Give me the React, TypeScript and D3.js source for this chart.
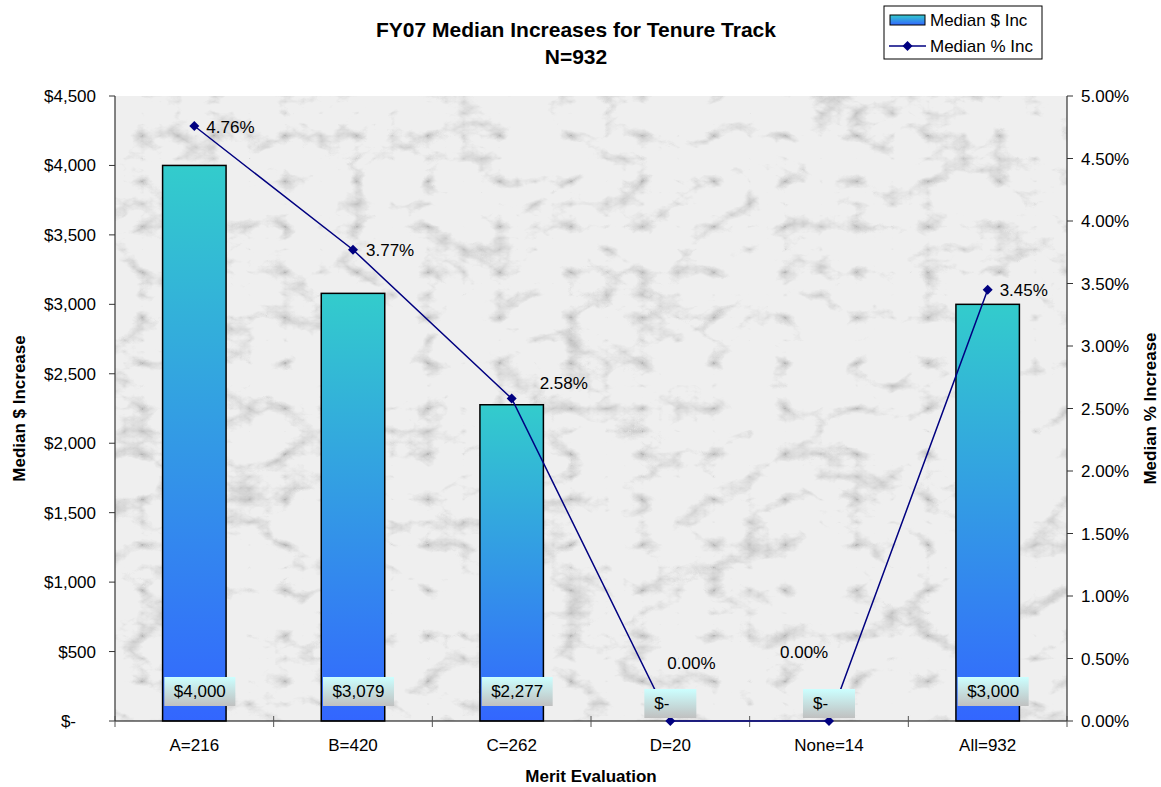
import React from 'react';
import * as d3 from 'd3';

const categories = ['A=216', 'B=420', 'C=262', 'D=20', 'None=14', 'All=932'];
const medianDollar = [4000, 3079, 2277, 0, 0, 3000];
const medianPct = [4.76, 3.77, 2.58, 0, 0, 3.45];
const dollarTicks = [0, 500, 1000, 1500, 2000, 2500, 3000, 3500, 4000, 4500];
const pctTicks = [0, 0.5, 1, 1.5, 2, 2.5, 3, 3.5, 4, 4.5, 5];

// where Excel pushed the % labels, relative to the marker
const pctLabelShift: [number, number][] = [
  [12, 7], [13, 6], [28, -10], [-3, -52], [-49, -63], [12, 6],
];

const W = 1161;
const H = 787;
const m = { top: 96, right: 94, bottom: 66, left: 115 };
const FONT = 'Arial, "Liberation Sans", sans-serif';
const FS = 17;

const fmtDollar = (v: number) => (v === 0 ? '$-' : '$' + d3.format(',')(v));
const fmtPct = (v: number) => v.toFixed(2) + '%';

export default function App() {
  const iw = W - m.left - m.right;
  const ih = H - m.top - m.bottom;
  const x = d3.scaleBand<string>().domain(categories).range([m.left, m.left + iw]).paddingInner(0.6).paddingOuter(0.3);
  const xc = (c: string) => (x(c) ?? 0) + x.bandwidth() / 2;
  const step = iw / categories.length;
  const y = d3.scaleLinear().domain([0, 4500]).range([m.top + ih, m.top]);
  const y2 = d3.scaleLinear().domain([0, 5]).range([m.top + ih, m.top]);
  const base = y(0);

  const line = d3.line<number>().x((_, i) => xc(categories[i])).y(d => y2(d));

  return (
    <svg width={W} height={H} style={{ position: 'absolute', left: 0, top: 0, fontFamily: FONT }}>
      <defs>
        <linearGradient id="barGrad" x1="0" y1="0" x2="0" y2="1">
          <stop offset="0" stopColor="#33CCCC" />
          <stop offset="1" stopColor="#3366FF" />
        </linearGradient>
        <linearGradient id="lblGrad" x1="0" y1="0" x2="0" y2="1">
          <stop offset="0" stopColor="#CCFFFF" />
          <stop offset="1" stopColor="#C0C0C0" />
        </linearGradient>
        <filter id="marble" x="0" y="0" width="100%" height="100%">
          <feTurbulence type="turbulence" baseFrequency="0.014 0.022" numOctaves={5} seed={7} result="t" />
          <feColorMatrix in="t" type="matrix"
            values="0 0 0 0 0  0 0 0 0 0  0 0 0 0 0  -1.1 -0.7 -0.3 0 0.6" result="veins" />
          <feFlood floodColor="#efefef" result="bg" />
          <feFlood floodColor="#7a7a7a" result="dark" />
          <feComposite in="dark" in2="veins" operator="in" result="v2" />
          <feMerge>
            <feMergeNode in="bg" />
            <feMergeNode in="v2" />
          </feMerge>
        </filter>
      </defs>

      <rect x={0} y={0} width={W} height={H} fill="#fff" />

      {/* marble plot area */}
      <rect x={m.left} y={m.top} width={iw} height={ih} fill="#e6e6e6" filter="url(#marble)" />

      {/* title */}
      <text x={576} y={37} textAnchor="middle" fontSize={21} fontWeight="bold">FY07 Median Increases for Tenure Track</text>
      <text x={576} y={64} textAnchor="middle" fontSize={21} fontWeight="bold">N=932</text>

      {/* bars */}
      {medianDollar.map((v, i) => (
        <rect key={'b' + i} x={x(categories[i])} y={y(v)} width={x.bandwidth()} height={base - y(v)}
          fill="url(#barGrad)" stroke="#000" strokeWidth={1.5} />
      ))}

      {/* left axis */}
      <line x1={m.left} x2={m.left} y1={m.top} y2={base} stroke="#333" strokeWidth={1.2} />
      {dollarTicks.map(t => (
        <g key={'l' + t}>
          <line x1={m.left - 6} x2={m.left} y1={y(t)} y2={y(t)} stroke="#333" />
          <text x={t === 0 ? 76 : 96} y={y(t) + 6} textAnchor="end" fontSize={FS}>{fmtDollar(t)}</text>
        </g>
      ))}

      {/* right axis */}
      <line x1={m.left + iw} x2={m.left + iw} y1={m.top} y2={base} stroke="#333" strokeWidth={1.2} />
      {pctTicks.map(t => (
        <g key={'r' + t}>
          <line x1={m.left + iw} x2={m.left + iw + 6} y1={y2(t)} y2={y2(t)} stroke="#333" />
          <text x={m.left + iw + 14} y={y2(t) + 6} fontSize={FS}>{t.toFixed(2) + '%'}</text>
        </g>
      ))}

      {/* x axis */}
      <line x1={m.left} x2={m.left + iw} y1={base} y2={base} stroke="#000" strokeWidth={1.2} />
      {d3.range(categories.length + 1).map(i => (
        <line key={'xt' + i} x1={m.left + i * step} x2={m.left + i * step} y1={base - 5} y2={base + 6} stroke="#555" />
      ))}
      {categories.map(c => (
        <text key={'xl' + c} x={xc(c)} y={751} textAnchor="middle" fontSize={FS}>{c}</text>
      ))}

      {/* % line */}
      <path d={line(medianPct) ?? ''} fill="none" stroke="#000080" strokeWidth={1.5} />
      {medianPct.map((v, i) => {
        const cx = xc(categories[i]);
        const cy = y2(v);
        return <path key={'m' + i} d={`M${cx},${cy - 5}L${cx + 5},${cy}L${cx},${cy + 5}L${cx - 5},${cy}Z`} fill="#000080" />;
      })}
      {medianPct.map((v, i) => (
        <text key={'pl' + i} x={xc(categories[i]) + pctLabelShift[i][0]} y={y2(v) + pctLabelShift[i][1]} fontSize={FS}>{fmtPct(v)}</text>
      ))}

      {/* $ data labels */}
      {medianDollar.map((v, i) => {
        const label = fmtDollar(v);
        const bw = v === 0 ? 52 : 71;
        const bx = v === 0 ? xc(categories[i]) - 26 : xc(categories[i]) - 30;
        const by = v === 0 ? base - 32 : base - 44;
        return (
          <g key={'dl' + i}>
            <rect x={bx} y={by} width={bw} height={29} fill="url(#lblGrad)" />
            <text x={v === 0 ? bx + 10 : bx + bw / 2} y={by + 20} textAnchor={v === 0 ? 'start' : 'middle'} fontSize={FS}>{label}</text>
          </g>
        );
      })}

      {/* axis titles */}
      <text transform={`translate(25,${m.top + ih / 2}) rotate(-90)`} textAnchor="middle" fontSize={FS} fontWeight="bold">Median $ Increase</text>
      <text transform={`translate(1156,${m.top + ih / 2}) rotate(-90)`} textAnchor="middle" fontSize={FS} fontWeight="bold">Median % Increase</text>
      <text x={591} y={782} textAnchor="middle" fontSize={FS} fontWeight="bold">Merit Evaluation</text>

      {/* legend */}
      <g>
        <rect x={884} y={6} width={158} height={53} fill="#fff" stroke="#000" />
        <rect x={890} y={15} width={35} height={10} fill="url(#barGrad)" stroke="#000" />
        <text x={930} y={26} fontSize={FS}>Median $ Inc</text>
        <line x1={889} x2={926} y1={46} y2={46} stroke="#000080" strokeWidth={1.5} />
        <path d="M907.5,41L912.5,46L907.5,51L902.5,46Z" fill="#000080" />
        <text x={930} y={52} fontSize={FS}>Median % Inc</text>
      </g>
    </svg>
  );
}
